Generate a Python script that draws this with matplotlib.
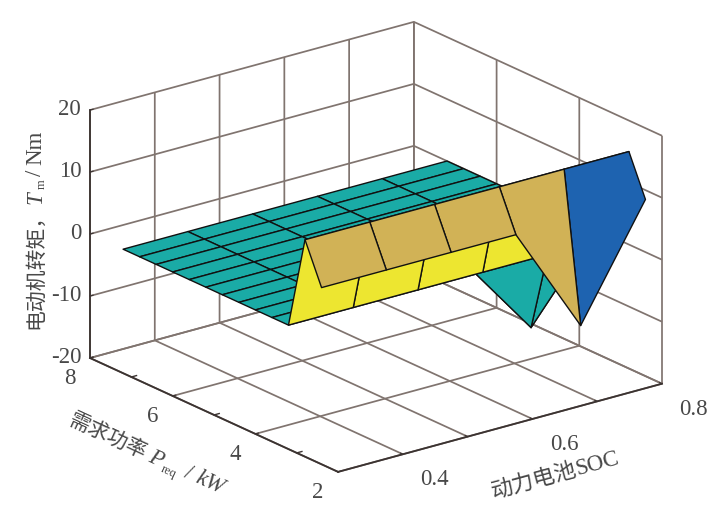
import numpy as np
import matplotlib
matplotlib.use('Agg')
import matplotlib.pyplot as plt
from matplotlib.colors import LinearSegmentedColormap, Normalize
from mpl_toolkits.mplot3d import proj3d

# --- data ---
soc = [0.3, 0.4, 0.5, 0.6, 0.7, 0.8]
preq = [2.4, 2.8, 3.2, 3.6, 4.0, 4.4, 4.8, 5.2, 5.6, 6.0, 6.4, 6.8, 7.2]
torque = [
    [8.5, 8.5, 8.5, 8.5, -9.0, 8.5],
    [15, 15, 15, 15, 15, 15],
    [0, 0, 0, 0, 0, 0],
    [0, 0, 0, 0, -13, 0],
    [0, 0, 0, 0, 0, 0],
    [0, 0, 0, 0, 0, 0],
    [0, 0, 0, 0, 0, 0],
    [0, 0, 0, 0, 0, 0],
    [0, 0, 0, 0, 0, 0],
    [0, 0, 0, 0, 0, 0],
    [0, 0, 0, 0, 0, 0],
    [0, 0, 0, 0, 0, 0],
    [0, 0, 0, 0, 0, 0],
]
soc_ticks = [0.3, 0.4, 0.5, 0.6, 0.7, 0.8]
soc_labels = ['', '0.4', '', '0.6', '', '0.8']
preq_ticks = [2, 4, 6, 8]
preq_minor = [3, 5, 7]
z_ticks = [-20, -10, 0, 10, 20]

W, H = 718, 529
SERIF = ['Liberation Serif', 'Noto Sans CJK SC']
TXT = '#484848'
GRID = '#80746f'
PANE = '#8f8683'
DARK = '#3b3331'

plt.rcParams['font.family'] = SERIF
plt.rcParams['axes.unicode_minus'] = False

fig = plt.figure(figsize=(W / 100, H / 100), dpi=100)
fig.patch.set_facecolor('white')
S = 520
ax = fig.add_axes([0, 0, S / W, S / H], projection='3d', proj_type='ortho')
ax.patch.set_alpha(0)
ax.view_init(elev=20.7, azim=-127.6)
ax.set_box_aspect((408.7, 406.5, 265), zoom=1.0)

X, Y = np.meshgrid(soc, preq)
Z = np.array(torque, dtype=float)
cmap = LinearSegmentedColormap.from_list(
    'par', [(0.0, '#2a3fb0'), (0.143, '#1e63b0'), (0.464, '#1aaba6'),
            (0.768, '#d1b256'), (1.0, '#ede630')])
norm = Normalize(-13, 15)
surf = ax.plot_surface(X, Y, Z, facecolors=cmap(norm(Z)), rstride=1, cstride=1,
                       shade=False, edgecolor='#111111', linewidth=1.0, antialiased=True)
surf.set_clip_on(False)

ax.set_xlim(0.3, 0.8, view_margin=0)
ax.set_ylim(2, 8, view_margin=0)
ax.set_zlim(-20, 20, view_margin=0)
ax.set_xticks(soc_ticks)
ax.set_xticklabels(soc_labels)
ax.set_yticks(preq_ticks)
ax.set_yticklabels([str(v) for v in preq_ticks])
ax.set_zticks(z_ticks)
ax.set_zticklabels([str(v) for v in z_ticks])

for axis, pad in ((ax.xaxis, 5.7), (ax.yaxis, 4), (ax.zaxis, -5)):
    axis.set_pane_color((1, 1, 1, 0))
    axis.pane.set_edgecolor(PANE)
    axis.pane.set_linewidth(1.1)
    axis.line.set_color(DARK)
    axis.line.set_linewidth(1.3)
    axis._axinfo['grid'].update(color=GRID, linewidth=1.25, linestyle='-')
    axis._axinfo['tick'].update(inward_factor=0.0, outward_factor=0.12)
    axis.set_tick_params(labelsize=16.5, labelcolor=TXT, color=DARK, pad=pad, width=1.0)
ax.grid(True)
plt.setp(ax.get_xticklabels(), ha='left', va='center')
plt.setp(ax.get_yticklabels(), va='center')
plt.setp(ax.get_zticklabels(), ha='right', va='center')

for p in preq_minor:
    ax.plot([0.3, 0.308], [p, p], [-20, -20], color=DARK, lw=1.0)


def calibrate():
    fig.canvas.draw()
    M = ax.get_proj()
    def px(x, y, z):
        xs, ys, _ = proj3d.proj_transform(x, y, z, M)
        return ax.transData.transform((xs, ys))
    return px(0.3, 8, -20), px(0.8, 2, -20)


# Fit the plot box to its place: left corner (90,358), right corner (662,384)
zoom = 1.0
for _ in range(3):
    a, b = calibrate()
    zoom *= (662 - 90) / (b[0] - a[0])
    ax.set_box_aspect((408.7, 406.5, 265), zoom=zoom)
    a, b = calibrate()
    dx = 90 - a[0]
    dy = (H - 358) - a[1]
    pos = ax.get_position()
    ax.set_position([pos.x0 + dx / W, pos.y0 + dy / H, pos.width, pos.height])


def place(segments, x, y, rot):
    """Lay out text pieces one after another along a rotated baseline (pixels, y down)."""
    r = fig.canvas.get_renderer()
    c, s = np.cos(np.radians(rot)), np.sin(np.radians(rot))
    d = 0.0
    for txt, size, style, drop, gap in segments:
        px_ = x + d * c + drop * s
        py_ = y - d * s + drop * c
        t = fig.text(px_ / W, 1 - py_ / H, txt, fontsize=size, style=style, color=TXT,
                     family=SERIF, rotation=0, rotation_mode='anchor',
                     ha='left', va='baseline')
        w = t.get_window_extent(r).width
        t.set_rotation(rot)
        d += w + gap


place([('需求功率', 15, 'normal', 0, 4),
       ('P', 16.5, 'italic', 0, 2),
       ('req', 9, 'normal', 4, 7),
       ('/', 16.5, 'normal', 0, 6),
       ('kW', 16.5, 'italic', 0, 0)], 68, 424, -24.7)
place([('动力电池', 15.8, 'normal', 0, 0),
       ('SOC', 16.5, 'normal', 0, 0)], 493, 498, 15.2)
place([('电动机转矩，', 15, 'normal', 0, 0),
       ('T', 16.5, 'italic', 0, 2),
       ('m', 9, 'normal', 4, 3),
       ('/', 16.5, 'normal', 0, 5),
       ('Nm', 16.5, 'normal', 0, 0)], 41, 329, 90)

fig.savefig('out.png', dpi=100, facecolor='white')
